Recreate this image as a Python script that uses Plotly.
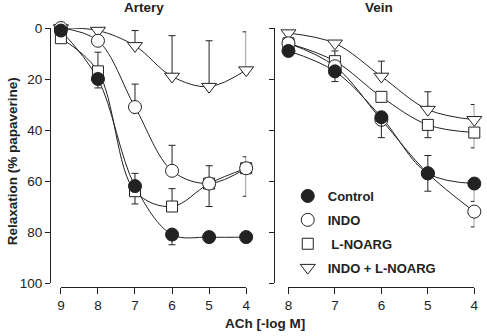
import plotly.graph_objects as go

# ---------------- data ----------------
artery_x = [9, 8, 7, 6, 5, 4]
vein_x = [8, 7, 6, 5, 4]

art_control = [1, 20, 62, 81, 82, 82]
art_control_plus = [0, 3.5, 0, 4, 2, 2]
art_control_minus = [0, 0, 5, 0, 0, 0]

art_indo = [0, 5, 31, 56, 61, 55]
art_indo_plus = [0, 0, 0, 0, 0, 0]
art_indo_minus = [0, 0, 9, 10, 7, 4.5]

art_lnoarg = [4, 17, 64, 70, 61, 55]
art_lnoarg_plus = [0, 0, 5, 0, 9, 11]
art_lnoarg_minus = [0, 7.5, 0, 7, 0, 0]

art_both = [0, 1, 7, 19, 23, 16.5]
art_both_plus = [0, 0, 0, 0, 0, 0]
art_both_minus = [0, 0, 6, 16, 18, 15]

vein_control = [9, 17, 35, 57, 61]
vein_control_plus = [2, 4, 8, 7, 7]
vein_control_minus = [0, 0, 0, 7, 0]

vein_indo = [6, 15, 36, 57, 72]
vein_indo_plus = [0, 0, 0, 0, 6]
vein_indo_minus = [0, 0, 0, 0, 0]

vein_lnoarg = [6, 13, 27, 38, 41]
vein_lnoarg_plus = [0, 0, 0, 5, 6]
vein_lnoarg_minus = [0, 4, 0, 0, 0]

vein_both = [2, 6, 19, 32, 36]
vein_both_plus = [0, 0, 0, 0, 0]
vein_both_minus = [0, 0, 6, 7, 6]

series_names = ["Control", "INDO", " L-NOARG", "INDO + L-NOARG"]
y_ticks = [0, 20, 40, 60, 80, 100]

# ---------------- styling ----------------
INK = "#222222"
FONT = "Liberation Sans, Arial, Helvetica, sans-serif"
styles = {
    "Control": dict(symbol="circle", fill=INK, size=13),
    "INDO": dict(symbol="circle", fill="white", size=13),
    " L-NOARG": dict(symbol="square", fill="white", size=11),
    "INDO + L-NOARG": dict(symbol="triangle-down", fill="white", size=13),
}

panels = [
    ("x", "y", artery_x, [
        ("Control", art_control, art_control_plus, art_control_minus),
        ("INDO", art_indo, art_indo_plus, art_indo_minus),
        (" L-NOARG", art_lnoarg, art_lnoarg_plus, art_lnoarg_minus),
        ("INDO + L-NOARG", art_both, art_both_plus, art_both_minus),
    ]),
    ("x2", "y2", vein_x, [
        ("Control", vein_control, vein_control_plus, vein_control_minus),
        ("INDO", vein_indo, vein_indo_plus, vein_indo_minus),
        (" L-NOARG", vein_lnoarg, vein_lnoarg_plus, vein_lnoarg_minus),
        ("INDO + L-NOARG", vein_both, vein_both_plus, vein_both_minus),
    ]),
]

fig = go.Figure()

# lines first
for xa, ya, xs, sers in panels:
    for name, ys, plus, minus in sers:
        fig.add_trace(go.Scatter(
            x=xs, y=ys, xaxis=xa, yaxis=ya, mode="lines",
            line=dict(color=INK, width=1, shape="spline", smoothing=1.0),
            showlegend=False, hoverinfo="skip", cliponaxis=False))

# markers, drawn so that Control ends on top
draw_order = ["INDO + L-NOARG", " L-NOARG", "INDO", "Control"]
for pi, (xa, ya, xs, sers) in enumerate(panels):
    lookup = {s[0]: s for s in sers}
    for name in draw_order:
        _, ys, plus, minus = lookup[name]
        st = styles[name]
        fig.add_trace(go.Scatter(
            x=xs, y=ys, xaxis=xa, yaxis=ya, mode="markers",
            name="<b>%s</b>" % name,
            legendrank=series_names.index(name) + 1,
            legendgroup=name,
            showlegend=(pi == 1),
            marker=dict(symbol=st["symbol"], size=st["size"], color=st["fill"],
                        line=dict(color=INK, width=1)),
            error_y=dict(type="data", symmetric=False, array=plus, arrayminus=minus,
                         color=INK, thickness=1, width=3.5),
            cliponaxis=False))

L, R, T, B = 50, 8, 28, 49
W, H = 487, 336
pw, ph = W - L - R, H - T - B

def px(xpix):
    return (xpix - L) / pw

def py(ypix):
    return (H - B - ypix) / ph

axis_common = dict(showgrid=False, zeroline=False, showline=True, linecolor=INK,
                   linewidth=1, ticks="outside", tickcolor=INK, tickwidth=1,
                   tickfont=dict(family=FONT, size=13.5, color=INK))

def label(text, xp, yp, angle=0):
    return dict(text=text, x=px(xp), y=py(yp), xref="paper", yref="paper",
                xanchor="center", yanchor="middle", textangle=angle,
                showarrow=False, font=dict(family=FONT, size=13.5, color=INK))

fig.update_layout(
    width=W, height=H,
    margin=dict(l=L, r=R, t=T, b=B, pad=0),
    paper_bgcolor="white", plot_bgcolor="white",
    font=dict(family=FONT, color=INK),
    xaxis=dict(axis_common, domain=[px(61), px(248)], range=[9, 4],
               tickvals=artery_x, ticklen=6, anchor="free", position=0),
    yaxis=dict(axis_common, domain=[py(283), 1], range=[100, 0],
               tickvals=y_ticks, ticklen=5, anchor="free", position=0),
    xaxis2=dict(axis_common, domain=[px(290.7), px(478.3)], range=[8, 4],
                tickvals=vein_x, ticklen=6, anchor="free", position=0),
    yaxis2=dict(axis_common, domain=[py(283), 1], range=[100, 0],
                tickvals=y_ticks, ticklen=5, anchor="free", position=px(275.7),
                showticklabels=False),
    showlegend=True,
    legend=dict(x=px(290), y=py(181), xanchor="left", yanchor="top",
                bgcolor="rgba(0,0,0,0)", tracegroupgap=4,
                font=dict(family=FONT, size=13, color=INK),
                itemsizing="trace"),
    annotations=[
        label("<b>Artery</b>", 145, 8),
        label("<b>Vein</b>", 382, 8),
        label("<b>ACh [-log M]</b>", 267, 323),
        label("<b>Relaxation (% papaverine)</b>", 12, 161, -90),
    ],
)

fig.write_html("out.html", config={"displayModeBar": False},
               post_script="document.body.style.margin='0';document.body.style.padding='0';")
